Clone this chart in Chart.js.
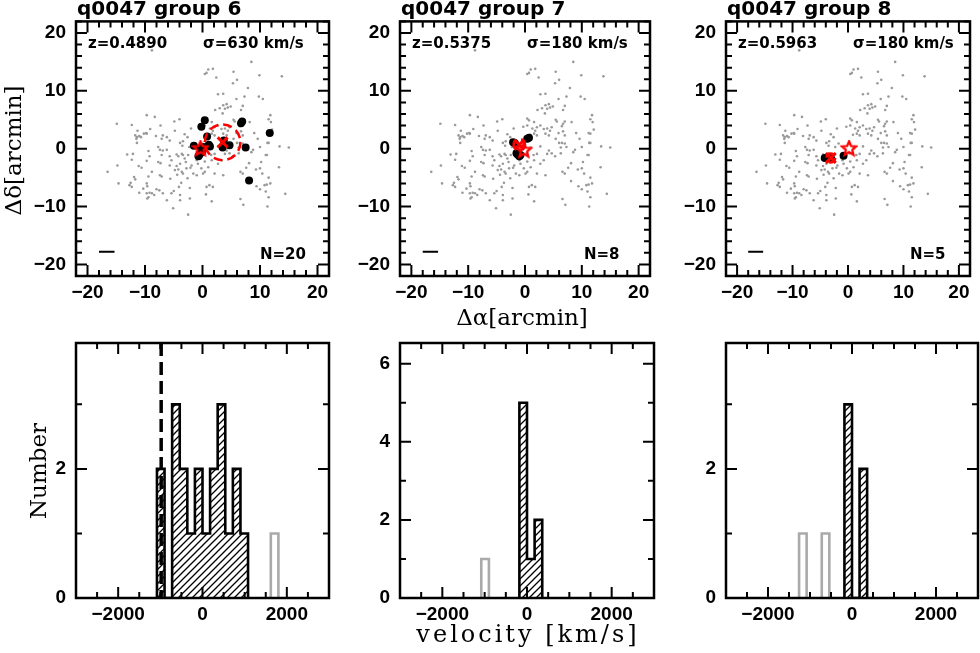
<!DOCTYPE html>
<html>
<head>
<meta charset="utf-8">
<script src="https://cdn.jsdelivr.net/npm/chart.js@4.4.1/dist/chart.umd.min.js"></script>
<style>
  body { margin: 0; background: #fff; width: 980px; height: 653px; position: relative; overflow: hidden; }
  canvas { position: absolute; }
</style>
</head>
<body>
<canvas id="p1" width="340" height="335" style="left:0;top:0"></canvas>
<canvas id="p2" width="330" height="335" style="left:330px;top:0"></canvas>
<canvas id="p3" width="325" height="335" style="left:655px;top:0"></canvas>
<canvas id="p4" width="340" height="353" style="left:0;top:300px"></canvas>
<canvas id="p5" width="330" height="353" style="left:330px;top:300px"></canvas>
<canvas id="p6" width="325" height="353" style="left:655px;top:300px"></canvas>
<script>
// ---- data ----
const posTicks = [-20, -10, 0, 10, 20];
const velTicks = [-2000, 0, 2000];
const countTicks6 = [0, 2];
const countTicks7 = [0, 2, 4, 6];
const countTicks8 = [0, 2];

const groupTitles = ['q0047 group 6', 'q0047 group 7', 'q0047 group 8'];
const groupZ = ['z=0.4890', 'z=0.5375', 'z=0.5963'];
const groupSigma = ['σ=630 km/s', 'σ=180 km/s', 'σ=180 km/s'];
const groupN = ['N=20', 'N=8', 'N=5'];

// velocity bin edges (km/s)
const velEdges = [-1260, -1080, -900, -720, -540, -360, -180, 0, 180, 360, 540, 720, 900, 1080, 1260, 1440, 1620, 1800];
// counts per bin, members (hatched) and other galaxies (grey)
const g6Vel = [0, 2, 0, 3, 2, 1, 2, 1, 2, 3, 1, 2, 1, 0, 0, 0, 0];
const g6VelOther = [0, 0, 0, 0, 0, 0, 0, 0, 0, 0, 0, 0, 0, 0, 0, 0, 1];
const g7Vel = [0, 0, 0, 0, 0, 0, 5, 1, 2, 0, 0, 0, 0, 0, 0, 0, 0];
const g7VelOther = [0, 1, 0, 0, 0, 0, 0, 0, 0, 0, 0, 0, 0, 0, 0, 0, 0];
const g8Vel = [0, 0, 0, 0, 0, 0, 3, 0, 2, 0, 0, 0, 0, 0, 0, 0, 0];
const g8VelOther = [1, 0, 0, 1, 0, 0, 0, 0, 0, 0, 0, 0, 0, 0, 0, 0, 0];
const g6VelMark = -980;

// field galaxies, [dRA, dDec] arcmin
const fieldGalaxies = [
  [-8.8,17.0],[-9.7,5.8],[-8.3,5.5],[-14.9,4.3],[-12.3,4.1],[-11.3,3.1],[-9.1,3.4],[-7.3,4.0],[-9.8,2.7],[-9.7,2.6],
  [-10.2,2.6],[-11.7,2.3],[-11.4,2.0],[-11.0,2.2],[-10.7,2.0],[-11.5,1.7],[-8.1,2.2],[-6.9,2.3],[-7.1,1.7],
  [1.0,13.7],[0.7,13.1],[1.8,13.8],[0.4,12.9],[2.4,12.3],[2.7,9.4],[3.6,9.5],[3.0,7.0],[3.6,7.5],[4.2,7.7],
  [4.4,7.1],[3.9,6.9],[-4.9,4.7],[-4.0,5.1],[0.4,5.2],[0.7,4.9],[-0.3,3.8],[0.4,4.0],[1.6,4.6],[2.1,3.7],
  [1.3,3.5],[1.8,3.1],[2.7,4.0],[3.3,3.4],[3.9,3.5],[4.4,3.1],[3.6,2.6],[4.2,2.3],[2.1,2.3],[1.6,2.6],
  [-6.2,2.0],[-5.7,1.4],[-3.9,1.0],[-3.4,1.3],[-2.6,2.0],[-2.0,3.5],[-4.8,3.1],[-3.1,2.5],[2.2,6.7],[3.5,6.1],[0.9,2.4],
  [8.5,15.0],[5.4,13.3],[9.9,12.7],[13.8,12.5],[6.0,11.9],[5.3,11.3],[7.9,10.5],[5.9,8.6],[7.3,9.0],[9.8,9.0],
  [10.5,8.6],[4.9,7.3],[7.0,7.4],[6.7,6.7],[11.8,5.8],[11.5,5.1],[5.4,5.0],[5.6,4.7],[7.0,4.7],[6.7,4.3],
  [6.5,3.9],[8.2,4.6],[11.9,4.6],[4.7,3.7],[12.1,3.3],[9.0,2.7],[11.2,2.7],[11.5,2.6],[5.9,2.7],[6.7,3.0],
  [7.0,2.3],[5.4,1.7],[6.0,1.0],[7.0,0.9],[9.6,1.7],[11.3,1.0],
  [-11.4,1.0],[-13.1,-1.0],[-12.1,-0.9],[-9.4,-0.4],[-9.2,-1.3],[-7.7,0.3],[-7.4,-0.2],[-6.9,-0.3],[-7.1,-1.1],[-12.3,-1.9],
  [-9.7,-2.1],[-7.7,-2.3],[-7.3,-2.5],[-14.8,-2.9],[-16.5,-4.0],[-11.1,-3.0],[-10.6,-3.3],[-8.8,-4.0],[-7.1,-4.8],[-7.4,-4.6],
  [-11.9,-4.9],[-11.7,-5.3],[-9.4,-4.8],[-12.5,-5.9],[-12.7,-6.3],[-12.3,-6.6],[-14.6,-6.0],[-9.7,-6.0],[-9.6,-6.5],[-10.3,-6.9],
  [-11.0,-7.6],[-8.0,-7.0],[-7.5,-7.2],[-9.7,-7.7],[-9.2,-7.6],[-8.8,-7.7],[-8.4,-8.0],[-9.4,-8.4],[-9.6,-8.6],[-6.9,-7.7],
  [-6.2,-0.2],[-5.7,-1.3],[-5.4,-2.0],[-4.5,-1.0],[-4.2,-1.3],[-3.6,-0.9],[-3.4,-1.1],[-3.1,-1.7],[-2.5,-1.1],[-2.9,-2.3],
  [-3.9,-2.6],[-5.7,-2.9],[-4.8,-3.7],[-4.2,-3.6],[-3.6,-4.0],[-3.4,-4.3],[-2.8,-3.4],[-1.9,-2.9],[-1.6,-4.3],[-0.8,-2.6],
  [-1.0,-4.6],[-0.2,-3.4],[0.4,-4.0],[0.1,-4.3],[1.0,-3.2],[1.6,-2.0],[2.1,-0.9],[2.7,-2.6],[3.3,-2.0],[3.9,-0.9],
  [4.2,-0.3],[2.1,-4.3],[3.6,-4.6],[0.7,-6.6],[1.8,-6.6],[-5.4,-7.7],[-3.9,-8.0],[-2.2,-8.6],[-3.9,-8.9],[-6.2,-8.9],
  [-5.1,-10.3],[-2.5,-11.4],[-2.3,0.3],[-3.5,0.5],[-1.7,0.9],[1.0,0.2],[2.7,0.4],[0.3,-0.8],[1.5,-1.1],[-1.0,-2.0],
  [0.4,-2.2],[-2.1,-3.3],[-4.5,-3.0],[-4.1,-6.6],[-2.2,-6.8],[-5.0,-7.3],[1.2,-6.3],[0.6,-7.9],[1.6,-9.1],[-4.4,-4.5],
  [-5.6,-5.2],[-2.6,-5.1],[-3.7,-5.9],
  [6.5,1.0],[7.3,0.3],[6.3,0.2],[4.7,-0.8],[5.3,-1.3],[6.3,-0.8],[8.8,-0.2],[8.5,-0.6],[10.0,0.3],[11.5,1.0],
  [13.4,0.4],[15.0,0.2],[11.0,-1.1],[11.2,-1.1],[10.2,-2.3],[8.1,-2.5],[7.6,-3.3],[9.3,-3.6],[10.0,-3.4],[6.6,-4.0],
  [7.0,-4.3],[10.4,-4.3],[13.3,-3.2],[8.1,-5.6],[11.5,-5.0],[10.8,-6.3],[11.2,-6.2],[11.8,-6.0],[9.4,-6.5],[10.0,-7.0],
  [11.0,-7.4],[14.4,-7.8],[11.5,-8.4],[6.6,-8.7],[11.3,-10.0],[7.1,-9.7]
];

// group members
const g6Pos = [[0.4,4.9],[-0.2,3.8],[0.8,2.1],[-1.5,0.5],[1.1,0.7],[-0.2,-0.3],[-0.5,-1.0],[-0.1,-0.6],[3.5,0.2],[4.7,0.6],
  [6.7,4.4],[6.9,4.7],[7.5,0.2],[11.7,2.7],[8.1,-5.5],[3.7,1.4],[0.2,0.3],[-0.7,-1.3],[1.3,0.4],[-0.3,0.1]];
const g7Pos = [[-2.1,1.1],[-1.8,1.0],[0.4,1.7],[0.7,1.9],[-1.3,-1.0],[-1.0,-1.3],[-1.5,-0.8],[-0.8,-1.1]];
const g8Pos = [[-4.2,-1.6],[-3.5,-1.4],[-3.0,-1.8],[-3.3,-1.5],[-0.8,-1.2]];

// group centre (cross + circle radius in arcmin) and brightest galaxy (star)
const g6Centre = [3.5, 1.1], g6Radius = 3.1, g6Bright = [-0.35, 0.0];
const g7Centre = [-1.0, 0.7], g7Radius = 1.0, g7Bright = [-0.2, -0.3];
const g8Centre = [-3.1, -1.6], g8Radius = 0.8, g8Bright = [0.2, 0.0];
const scaleBar = [[-18.0, -17.8], [-15.3, -17.8]];

// ---- helpers ----
const xy = p => ({ x: p[0], y: p[1] });
const fmt = v => (v < 0 ? '\u2212' + Math.abs(v) : String(v));
const tickFont = { family: 'Liberation Sans', size: 19, weight: 'bold' };

function hatch() {
  const c = document.createElement('canvas');
  c.width = 7; c.height = 7;
  const g = c.getContext('2d');
  g.strokeStyle = '#000';
  g.lineWidth = 1.3;
  g.beginPath();
  g.moveTo(-1, 8); g.lineTo(8, -1);
  g.moveTo(-1, 1); g.lineTo(1, -1);
  g.moveTo(6, 8); g.lineTo(8, 6);
  g.stroke();
  return g.createPattern(c, 'repeat');
}

function starImage(size) {
  const c = document.createElement('canvas');
  c.width = c.height = size;
  const g = c.getContext('2d');
  const r = size / 2 - 1.5, r2 = r * 0.45;
  g.strokeStyle = '#f00';
  g.lineWidth = 2.2;
  g.beginPath();
  for (let i = 0; i < 10; i++) {
    const a = -Math.PI / 2 + i * Math.PI / 5;
    const rr = i % 2 ? r2 : r;
    const px = size / 2 + rr * Math.cos(a), py = size / 2 + rr * Math.sin(a);
    if (i) g.lineTo(px, py); else g.moveTo(px, py);
  }
  g.closePath();
  g.stroke();
  return c;
}

// outline of a histogram (one connected step line)
function outline(counts) {
  const idx = counts.map((c, i) => (c > 0 ? i : -1)).filter(i => i >= 0);
  const a = idx[0], b = idx[idx.length - 1];
  const pts = [{ x: velEdges[a], y: 0 }];
  for (let i = a; i <= b; i++) {
    pts.push({ x: velEdges[i], y: counts[i] }, { x: velEdges[i + 1], y: counts[i] });
  }
  pts.push({ x: velEdges[b + 1], y: 0 });
  return pts;
}

// separate open bars
function bars(counts) {
  const pts = [];
  counts.forEach((c, i) => {
    if (!c) return;
    const x0 = velEdges[i], x1 = velEdges[i + 1];
    pts.push({ x: x0, y: 0 }, { x: x0, y: c }, { x: x1, y: c }, { x: x1, y: 0 }, { x: x1, y: null });
  });
  return pts;
}

// frame with inward ticks on all four sides
const framePlugin = {
  id: 'frame',
  afterDatasetsDraw(chart, args, opts) {
    const { ctx, chartArea: a } = chart;
    const x = chart.scales.x, y = chart.scales.y;
    const isMajor = (v, m) => Math.abs(v / m - Math.round(v / m)) < 1e-6;
    ctx.save();
    ctx.strokeStyle = '#000';
    ctx.lineWidth = 2;
    ctx.beginPath();
    for (let v = Math.ceil(x.min / opts.xMinor) * opts.xMinor; v <= x.max; v += opts.xMinor) {
      const px = x.getPixelForValue(v);
      const len = isMajor(v, opts.xMajor) ? 11 : 6;
      ctx.moveTo(px, a.bottom); ctx.lineTo(px, a.bottom - len);
      ctx.moveTo(px, a.top); ctx.lineTo(px, a.top + len);
    }
    for (let v = Math.ceil(y.min / opts.yMinor) * opts.yMinor; v <= y.max; v += opts.yMinor) {
      const py = y.getPixelForValue(v);
      const len = isMajor(v, opts.yMajor) ? 11 : 6;
      ctx.moveTo(a.left, py); ctx.lineTo(a.left + len, py);
      ctx.moveTo(a.right, py); ctx.lineTo(a.right - len, py);
    }
    ctx.stroke();
    ctx.lineWidth = 2.5;
    ctx.strokeRect(a.left, a.top, a.right - a.left, a.bottom - a.top);
    ctx.restore();
  }
};

// dashed group circles, radius in data units
const circlePlugin = {
  id: 'circles',
  afterDatasetsDraw(chart, args, opts) {
    const { ctx } = chart;
    const x = chart.scales.x, y = chart.scales.y;
    (opts.items || []).forEach(c => {
      const cx = x.getPixelForValue(c.centre[0]);
      const cy = y.getPixelForValue(c.centre[1]);
      const r = Math.abs(x.getPixelForValue(c.centre[0] + c.r) - cx);
      ctx.save();
      ctx.strokeStyle = '#f00';
      ctx.lineWidth = 2.5;
      ctx.setLineDash([9, 5]);
      ctx.beginPath();
      ctx.arc(cx, cy, r, 0, Math.PI * 2);
      ctx.stroke();
      ctx.restore();
    });
  }
};

// texts placed relative to the chart area
const textPlugin = {
  id: 'panelText',
  afterDraw(chart, args, opts) {
    const { ctx, chartArea: a } = chart;
    (opts.items || []).forEach(t => {
      ctx.save();
      ctx.font = t.font;
      ctx.fillStyle = '#000';
      ctx.textAlign = t.align || 'left';
      ctx.textBaseline = t.baseline || 'alphabetic';
      if ('letterSpacing' in ctx) ctx.letterSpacing = t.spacing || '0px';
      ctx.translate(a.left + t.dx, a.top + t.dy);
      if (t.rotate) ctx.rotate(t.rotate);
      ctx.fillText(t.text, 0, 0);
      ctx.restore();
    });
  }
};

function panel(id, cfg) {
  return new Chart(document.getElementById(id), {
    type: cfg.type,
    data: { datasets: cfg.datasets },
    options: {
      responsive: false,
      animation: false,
      devicePixelRatio: 1,
      events: [],
      layout: { padding: { top: cfg.padTop, right: cfg.padRight, left: 0, bottom: 0 } },
      plugins: {
        legend: { display: false },
        tooltip: { enabled: false },
        frame: cfg.frame,
        circles: { items: cfg.circles || [] },
        panelText: { items: cfg.texts }
      },
      scales: {
        x: {
          type: 'linear', min: cfg.xMin, max: cfg.xMax,
          grid: { display: false, drawTicks: false }, border: { display: false },
          afterBuildTicks: s => { s.ticks = cfg.xTicks.map(v => ({ value: v })); },
          afterFit: s => { s.height = cfg.xh; },
          ticks: { padding: 5, font: tickFont, color: '#000', callback: fmt, maxRotation: 0, autoSkip: false }
        },
        y: {
          type: 'linear', min: cfg.yMin, max: cfg.yMax,
          grid: { display: false, drawTicks: false }, border: { display: false },
          afterBuildTicks: s => { s.ticks = cfg.yTicks.map(v => ({ value: v })); },
          afterFit: s => { s.width = cfg.yw; },
          ticks: { padding: 10, font: tickFont, color: '#000', callback: fmt, autoSkip: false }
        }
      }
    },
    plugins: [framePlugin, circlePlugin, textPlugin]
  });
}

const star = starImage(18);
const hatchFill = hatch();
const titleFont = 'bold 20px "DejaVu Sans"';
const innerFont = 'bold 15px "DejaVu Sans"';
const labelFont = '23px "DejaVu Serif"';

function skyDatasets(members, centre, bright) {
  return [
    { type: 'scatter', data: [xy(centre)], pointStyle: 'crossRot', pointRadius: 7, borderColor: '#f00', borderWidth: 3 },
    { type: 'scatter', data: [xy(bright)], pointStyle: star, pointRadius: 9 },
    { type: 'scatter', data: members.map(xy), pointRadius: 4, backgroundColor: '#000', borderWidth: 0 },
    { type: 'line', data: scaleBar.map(xy), showLine: true, borderColor: '#000', borderWidth: 2, pointRadius: 0 },
    { type: 'scatter', data: fieldGalaxies.map(xy), pointRadius: 1.3, backgroundColor: '#9a9a9a', borderWidth: 0 }
  ];
}

function skyTexts(i) {
  return [
    { text: groupTitles[i], dx: 1, dy: -6, font: titleFont },
    { text: groupZ[i], dx: 12, dy: 27, font: innerFont },
    { text: groupSigma[i], dx: 127, dy: 27, font: innerFont },
    { text: groupN[i], dx: 184, dy: 238, font: innerFont }
  ];
}

const skyCommon = { type: 'scatter', xMin: -22, xMax: 22, yMin: -22, yMax: 22, xTicks: posTicks, yTicks: posTicks,
  padTop: 20, xh: 59, frame: { xMinor: 2, xMajor: 10, yMinor: 2, yMajor: 10 } };

panel('p1', Object.assign({}, skyCommon, {
  yw: 76, padRight: 11,
  datasets: skyDatasets(g6Pos, g6Centre, g6Bright),
  circles: [{ centre: g6Centre, r: g6Radius }],
  texts: skyTexts(0).concat([
    { text: 'Δδ[arcmin]', dx: -61, dy: 129, font: labelFont, align: 'center', baseline: 'middle', rotate: -Math.PI / 2 }
  ])
}));

panel('p2', Object.assign({}, skyCommon, {
  yw: 70, padRight: 6,
  datasets: skyDatasets(g7Pos, g7Centre, g7Bright),
  circles: [{ centre: g7Centre, r: g7Radius }],
  texts: skyTexts(1).concat([
    { text: 'Δα[arcmin]', dx: 122, dy: 298, font: labelFont, align: 'center', baseline: 'middle' }
  ])
}));

panel('p3', Object.assign({}, skyCommon, {
  yw: 71, padRight: 2,
  datasets: skyDatasets(g8Pos, g8Centre, g8Bright),
  circles: [{ centre: g8Centre, r: g8Radius }],
  texts: skyTexts(2)
}));

function histDatasets(members, others) {
  return [
    { data: outline(members), borderColor: '#000', borderWidth: 2.6, pointRadius: 0, fill: 'origin',
      backgroundColor: hatchFill, tension: 0 },
    { data: bars(others), borderColor: '#aaaaaa', borderWidth: 2.6, pointRadius: 0, fill: false, tension: 0 }
  ];
}

const histCommon = { type: 'line', xMin: -3000, xMax: 3000, yMin: 0, xTicks: velTicks,
  padTop: 43, xh: 55, frame: { xMinor: 500, xMajor: 2000, yMinor: 1, yMajor: 2 } };

panel('p4', Object.assign({}, histCommon, {
  yw: 76, padRight: 11, yMax: 3.95, yTicks: countTicks6,
  datasets: [
    { data: [{ x: g6VelMark, y: 3.95 }, { x: g6VelMark, y: 0 }], borderColor: '#000', borderWidth: 3.5,
      borderDash: [13, 6], pointRadius: 0, fill: false }
  ].concat(histDatasets(g6Vel, g6VelOther)),
  texts: [
    { text: 'Number', dx: -36, dy: 128, font: labelFont, align: 'center', baseline: 'middle', rotate: -Math.PI / 2 }
  ]
}));

panel('p5', Object.assign({}, histCommon, {
  yw: 70, padRight: 6, yMax: 6.53, yTicks: countTicks7,
  datasets: histDatasets(g7Vel, g7VelOther),
  texts: [
    { text: 'velocity [km/s]', dx: 128, dy: 293, font: '24px "DejaVu Serif"', align: 'center', baseline: 'middle', spacing: '3px' }
  ]
}));

panel('p6', Object.assign({}, histCommon, {
  yw: 71, padRight: 2, yMax: 3.95, yTicks: countTicks8,
  datasets: histDatasets(g8Vel, g8VelOther),
  texts: []
}));
</script>
</body>
</html>
